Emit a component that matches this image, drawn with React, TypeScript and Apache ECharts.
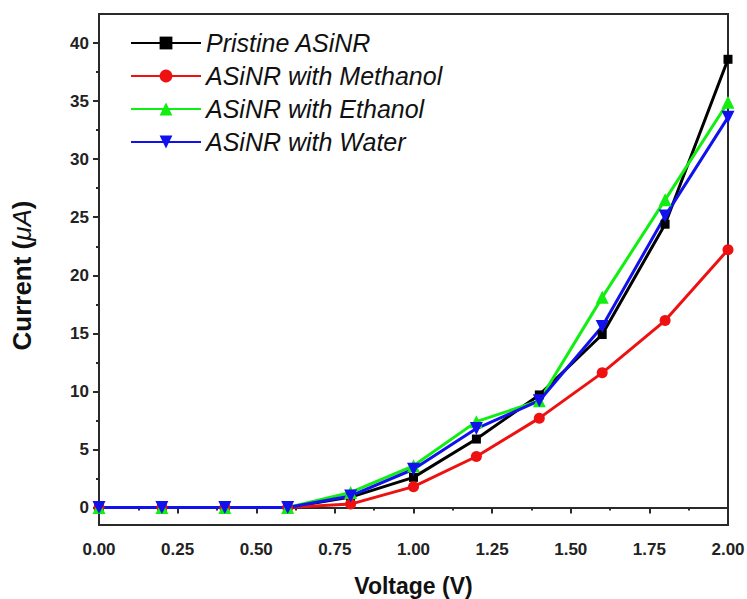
import React, { useEffect, useRef } from "react";
import * as echarts from "echarts";

const voltage = [0, 0.2, 0.4, 0.6, 0.8, 1.0, 1.2, 1.4, 1.6, 1.8, 2.0];
const pristine = [0, 0, 0, 0, 0.9, 2.6, 5.9, 9.7, 14.9, 24.4, 38.6];
const methanol = [0, 0, 0, 0, 0.3, 1.8, 4.4, 7.7, 11.6, 16.1, 22.2];
const ethanol = [0, 0, 0, 0, 1.3, 3.6, 7.4, 9.2, 18.1, 26.5, 34.9];
const water = [0, 0, 0, 0, 1.0, 3.3, 6.8, 9.2, 15.6, 25.1, 33.6];

const seriesNames = [
  "Pristine ASiNR",
  "ASiNR with Methanol",
  "ASiNR with Ethanol",
  "ASiNR with Water",
];
const yMajorTicks = [0, 5, 10, 15, 20, 25, 30, 35, 40];
const yMinorTicks = [2.5, 7.5, 12.5, 17.5, 22.5, 27.5, 32.5, 37.5];

const FONT = "'Liberation Sans', Arial, sans-serif";
const AXIS_COLOR = "#2a2a2a";

function pairs(ys: number[]) {
  return voltage.map((x, i) => [x, ys[i]]);
}

export default function App() {
  const ref = useRef<HTMLDivElement>(null);
  useEffect(() => {
    if (!ref.current) return;
    const chart = echarts.init(ref.current, null, { renderer: "svg" });
    const lineSeries = (
      name: string,
      data: number[],
      color: string,
      symbol: string,
      size: number,
      rotate = 0
    ) => ({
      name,
      type: "line",
      data: pairs(data),
      symbol,
      symbolSize: size,
      symbolRotate: rotate,
      yAxisIndex: 0,
      itemStyle: { color },
      lineStyle: { color, width: 3 },
      emphasis: { disabled: true },
    });
    chart.setOption({
      animation: false,
      backgroundColor: "#ffffff",
      grid: {
        left: 99,
        right: 19,
        top: 14,
        bottom: 74,
        outerBoundsMode: "none",
        containLabel: false,
        show: true,
        borderColor: AXIS_COLOR,
        borderWidth: 2,
        backgroundColor: "transparent",
      },
      legend: {
        orient: "vertical",
        left: 125,
        top: 24,
        itemWidth: 70,
        itemHeight: 16,
        itemGap: 5,
        selectedMode: false,
        textStyle: {
          fontFamily: FONT,
          fontSize: 25,
          fontStyle: "italic",
          color: "#111",
          lineHeight: 28,
        },
        data: seriesNames,
      },
      xAxis: {
        type: "value",
        min: 0,
        max: 2,
        interval: 0.25,
        name: "Voltage (V)",
        nameLocation: "middle",
        nameGap: 49,
        nameMoveOverlap: false,
        nameTextStyle: {
          fontFamily: FONT,
          fontSize: 23,
          fontWeight: "bold",
          color: "#111",
          lineHeight: 23,
        },
        axisLine: { show: true, lineStyle: { color: AXIS_COLOR, width: 2 } },
        axisTick: { show: true, length: 6, lineStyle: { color: AXIS_COLOR, width: 2 } },
        minorTick: {
          show: true,
          splitNumber: 2,
          length: 3,
          lineStyle: { color: AXIS_COLOR, width: 2 },
        },
        splitLine: { show: false },
        axisLabel: {
          fontFamily: FONT,
          fontSize: 17,
          fontWeight: "bold",
          color: "#222",
          margin: 16,
          formatter: (v: number) => v.toFixed(2),
        },
      },
      yAxis: [
        {
          type: "value",
          min: -1.5,
          max: 42.5,
          position: "left",
          name: "Current ({i|μA})",
          nameLocation: "middle",
          nameGap: 64,
          nameMoveOverlap: false,
          nameTextStyle: {
            fontFamily: FONT,
            fontSize: 26,
            fontWeight: "bold",
            color: "#111",
            padding: [0, 12, 0, 0],
            rich: {
              i: {
                fontFamily: FONT,
                fontSize: 26,
                fontStyle: "italic",
                fontWeight: "normal",
                color: "#111",
              },
            },
          },
          axisLine: { show: true, lineStyle: { color: AXIS_COLOR, width: 2 } },
          axisTick: {
            show: true,
            length: 6,
            customValues: yMajorTicks,
            lineStyle: { color: AXIS_COLOR, width: 2 },
          },
          splitLine: { show: false },
          axisLabel: {
            customValues: yMajorTicks,
            fontFamily: FONT,
            fontSize: 17,
            fontWeight: "bold",
            color: "#222",
            margin: 10,
          },
        },
        {
          type: "value",
          min: -1.5,
          max: 42.5,
          position: "left",
          offset: 0,
          axisLine: { show: true, lineStyle: { color: AXIS_COLOR, width: 2 } },
          axisTick: {
            show: true,
            length: 3,
            customValues: yMinorTicks,
            lineStyle: { color: AXIS_COLOR, width: 2 },
          },
          axisLabel: { show: false, customValues: yMinorTicks },
          splitLine: { show: false },
        },
      ],
      series: [
        lineSeries(seriesNames[0], pristine, "#000000", "rect", 9),
        lineSeries(seriesNames[1], methanol, "#ee1111", "circle", 11),
        lineSeries(seriesNames[2], ethanol, "#11ee11", "triangle", 13),
        lineSeries(seriesNames[3], water, "#1111ee", "triangle", 13, 180),
      ],
    });
    return () => chart.dispose();
  }, []);
  return (
    <div
      ref={ref}
      style={{ position: "fixed", left: 0, top: 0, width: 747, height: 599 }}
    />
  );
}
